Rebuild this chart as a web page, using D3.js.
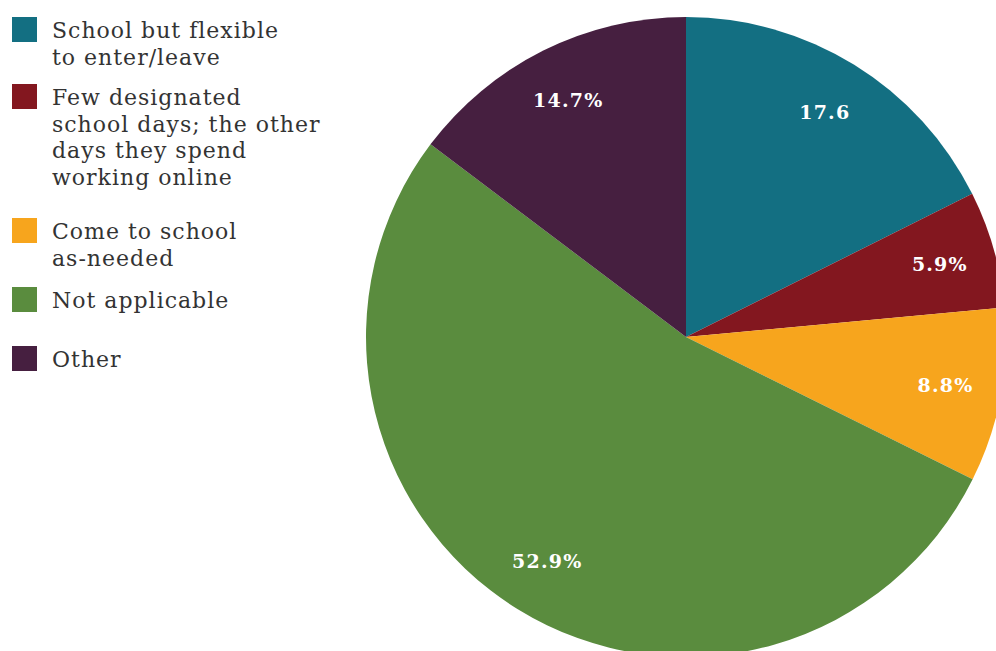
<!DOCTYPE html>
<html lang="en">
<head>
    <meta charset="UTF-8">
    <title>School attendance arrangements</title>
    <script src="https://cdn.jsdelivr.net/npm/d3@7/dist/d3.min.js"></script>
    <style>
        body { margin: 0; background: #fff; overflow: hidden; }
        svg { display: block; }
    </style>
</head>
<body>
    <div id="chart"></div>
    <script>
        const categories = [
            "School but flexible to enter/leave",
            "Few designated school days; the other days they spend working online",
            "Come to school as-needed",
            "Not applicable",
            "Other"
        ];
        const values = [17.6, 5.9, 8.8, 52.9, 14.7];
        const valueLabels = ["17.6", "5.9%", "8.8%", "52.9%", "14.7%"];
        const legendLines = [
            ["School but flexible", "to enter/leave"],
            ["Few designated", "school days; the other", "days they spend", "working online"],
            ["Come to school", "as-needed"],
            ["Not applicable"],
            ["Other"]
        ];
        const colors = ["#136f82", "#83171f", "#f7a51d", "#5a8c3e", "#461f40"];

        const width = 996, height = 651;
        const cx = 686, cy = 337, radius = 320;

        const svg = d3.select("#chart").append("svg")
            .attr("width", width)
            .attr("height", height);

        const color = d3.scaleOrdinal().domain(categories).range(colors);

        const pie = d3.pie().sort(null).value(d => d.value);
        const arcs = pie(categories.map((c, i) => ({ cat: c, value: values[i], label: valueLabels[i] })));

        const arc = d3.arc().innerRadius(0).outerRadius(radius);
        const labelArc = d3.arc().innerRadius(264).outerRadius(264);

        const g = svg.append("g").attr("transform", `translate(${cx},${cy})`);

        g.selectAll("path")
            .data(arcs)
            .join("path")
            .attr("d", arc)
            .attr("fill", d => color(d.data.cat));

        g.selectAll("text")
            .data(arcs)
            .join("text")
            .attr("transform", d => `translate(${labelArc.centroid(d)})`)
            .attr("text-anchor", "middle")
            .attr("dy", "0.35em")
            .attr("fill", "#fff")
            .style("font-family", "'DejaVu Serif', serif")
            .style("font-weight", "bold")
            .style("font-size", "19px")
            .style("letter-spacing", "1.2px")
            .text(d => d.data.label);

        // legend
        const legendY = [17, 84, 218, 287, 346];
        const legend = svg.append("g").selectAll("g")
            .data(categories)
            .join("g")
            .attr("transform", (d, i) => `translate(12,${legendY[i]})`);

        legend.append("rect")
            .attr("width", 25)
            .attr("height", 25)
            .attr("fill", d => color(d));

        legend.append("text")
            .attr("x", 40)
            .attr("y", 21)
            .attr("fill", "#333")
            .style("font-family", "'DejaVu Serif', serif")
            .style("font-size", "22px")
            .style("letter-spacing", "1px")
            .selectAll("tspan")
            .data((d, i) => legendLines[i])
            .join("tspan")
            .attr("x", 40)
            .attr("dy", (d, i) => i === 0 ? 0 : 26.5)
            .text(d => d);
    </script>
</body>
</html>
